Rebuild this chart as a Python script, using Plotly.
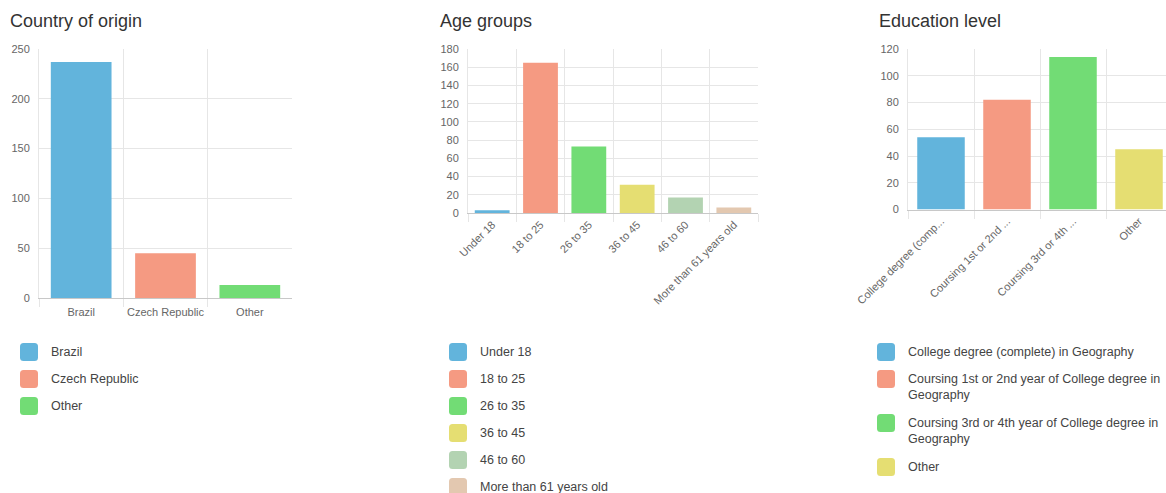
import plotly.graph_objects as go

W, H = 1166, 493

# ---------------- data ----------------
country_labels = ["Brazil", "Czech Republic", "Other"]
country_values = [237, 45, 13]

age_labels = ["Under 18", "18 to 25", "26 to 35", "36 to 45", "46 to 60", "More than 61 years old"]
age_values = [3, 165, 73, 31, 17, 6]

edu_labels = ["College degree (complete) in Geography",
              "Coursing 1st or 2nd year of College degree in Geography",
              "Coursing 3rd or 4th year of College degree in Geography",
              "Other"]
edu_ticks = ["College degree (comp...", "Coursing 1st or 2nd ...", "Coursing 3rd or 4th ...", "Other"]
edu_legend = ["College degree (complete) in Geography",
              "Coursing 1st or 2nd year of College degree in<br>Geography",
              "Coursing 3rd or 4th year of College degree in<br>Geography",
              "Other"]
edu_values = [54, 82, 114, 45]

palette = ["#62b4dc", "#f59a82", "#72dc75", "#e5de72", "#b3d3b2", "#e3c8b0"]

FONT = "Liberation Sans, Arial, sans-serif"
GRID = "#e6e6e6"
TICKC = "#666666"


def px_x(p):
    return p / W


def px_y(p):
    return 1 - p / H


fig = go.Figure()

charts = [
    dict(labels=country_labels, values=country_values, ticks=country_labels, legend=country_labels,
         x0=39, x1=292, y0=49, y1=298, ymax=250, dtick=50, angle=0, xrange=None, standoff=4,
         title="Country of origin", tx=8, lx=20),
    dict(labels=age_labels, values=age_values, ticks=age_labels, legend=age_labels,
         x0=468, x1=758, y0=49, y1=213, ymax=180, dtick=20, angle=-45, xrange=None, standoff=0,
         title="Age groups", tx=438, lx=449),
    dict(labels=edu_labels, values=edu_values, ticks=edu_ticks, legend=edu_legend,
         x0=908, x1=1166, y0=49, y1=209.5, ymax=120, dtick=20, angle=-45,
         xrange=[-0.5, -0.5 + 258 / 66.0], standoff=0,
         title="Education level", tx=877, lx=877),
]

shapes = []
annotations = []

for i, c in enumerate(charts):
    n = i + 1
    xa = "x" if n == 1 else f"x{n}"
    ya = "y" if n == 1 else f"y{n}"
    cols = palette[:len(c["labels"])]
    fig.add_trace(go.Bar(
        x=c["labels"], y=c["values"], xaxis=xa, yaxis=ya,
        marker=dict(color=cols, line=dict(width=0)),
        width=0.72, showlegend=False,
    ))
    xkey = "xaxis" if n == 1 else f"xaxis{n}"
    ykey = "yaxis" if n == 1 else f"yaxis{n}"
    xaxis = dict(
        domain=[px_x(c["x0"]), px_x(c["x1"])], anchor=ya,
        type="category", tickson="boundaries",
        tickmode="array", tickvals=c["labels"], ticktext=c["ticks"],
        showgrid=True, gridcolor=GRID, gridwidth=1,
        ticks="outside", ticklen=8, tickcolor=GRID,
        ticklabelstandoff=c["standoff"],
        showline=True, linecolor="#c8c8c8", linewidth=1,
        tickangle=c["angle"], tickfont=dict(family=FONT, size=11, color=TICKC),
        zeroline=False, fixedrange=True, automargin=False,
    )
    if c["xrange"] is not None:
        xaxis["range"] = c["xrange"]
    else:
        xaxis["range"] = [-0.5, len(c["labels"]) - 0.5]
    yaxis = dict(
        domain=[px_y(c["y1"]), px_y(c["y0"])], anchor=xa,
        range=[0, c["ymax"]], dtick=c["dtick"], tick0=0,
        showgrid=True, gridcolor=GRID, gridwidth=1,
        showline=True, linecolor=GRID, linewidth=1,
        ticks="outside", ticklen=6, tickcolor="rgba(0,0,0,0)",
        tickfont=dict(family=FONT, size=11, color=TICKC),
        zeroline=False, fixedrange=True, automargin=False,
    )
    fig.update_layout({xkey: xaxis, ykey: yaxis})

    # title
    annotations.append(dict(
        text=c["title"], xref="paper", yref="paper",
        x=px_x(c["tx"]), y=px_y(21), xanchor="left", yanchor="middle",
        showarrow=False, font=dict(family=FONT, size=18, color="#333333"),
    ))

    # custom legend with rounded squares
    yc = 352.0
    for j, (lab, col) in enumerate(zip(c["legend"], cols)):
        s = 18
        r = 3.5
        x0, x1 = c["lx"], c["lx"] + s
        y0, y1 = yc - s / 2, yc + s / 2
        path = (f"M {px_x(x0 + r)} {px_y(y0)} L {px_x(x1 - r)} {px_y(y0)} "
                f"Q {px_x(x1)} {px_y(y0)} {px_x(x1)} {px_y(y0 + r)} "
                f"L {px_x(x1)} {px_y(y1 - r)} Q {px_x(x1)} {px_y(y1)} {px_x(x1 - r)} {px_y(y1)} "
                f"L {px_x(x0 + r)} {px_y(y1)} Q {px_x(x0)} {px_y(y1)} {px_x(x0)} {px_y(y1 - r)} "
                f"L {px_x(x0)} {px_y(y0 + r)} Q {px_x(x0)} {px_y(y0)} {px_x(x0 + r)} {px_y(y0)} Z")
        shapes.append(dict(type="path", path=path, xref="paper", yref="paper",
                           fillcolor=col, line=dict(width=0), layer="above"))
        nlines = lab.count("<br>") + 1
        annotations.append(dict(
            text=lab, xref="paper", yref="paper",
            x=px_x(c["lx"] + 30), y=px_y(yc - 8), xanchor="left", yanchor="top",
            align="left", showarrow=False, borderpad=0,
            font=dict(family=FONT, size=12.5, color="#444444"),
        ))
        yc += 27 + 17 * (nlines - 1)

fig.update_layout(
    template="none",
    width=W, height=H,
    margin=dict(l=0, r=0, t=0, b=0, pad=0),
    paper_bgcolor="white", plot_bgcolor="white",
    shapes=shapes, annotations=annotations,
    showlegend=False, bargap=0.28,
    font=dict(family=FONT),
)

fig.write_html("out.html", config={"displayModeBar": False})
